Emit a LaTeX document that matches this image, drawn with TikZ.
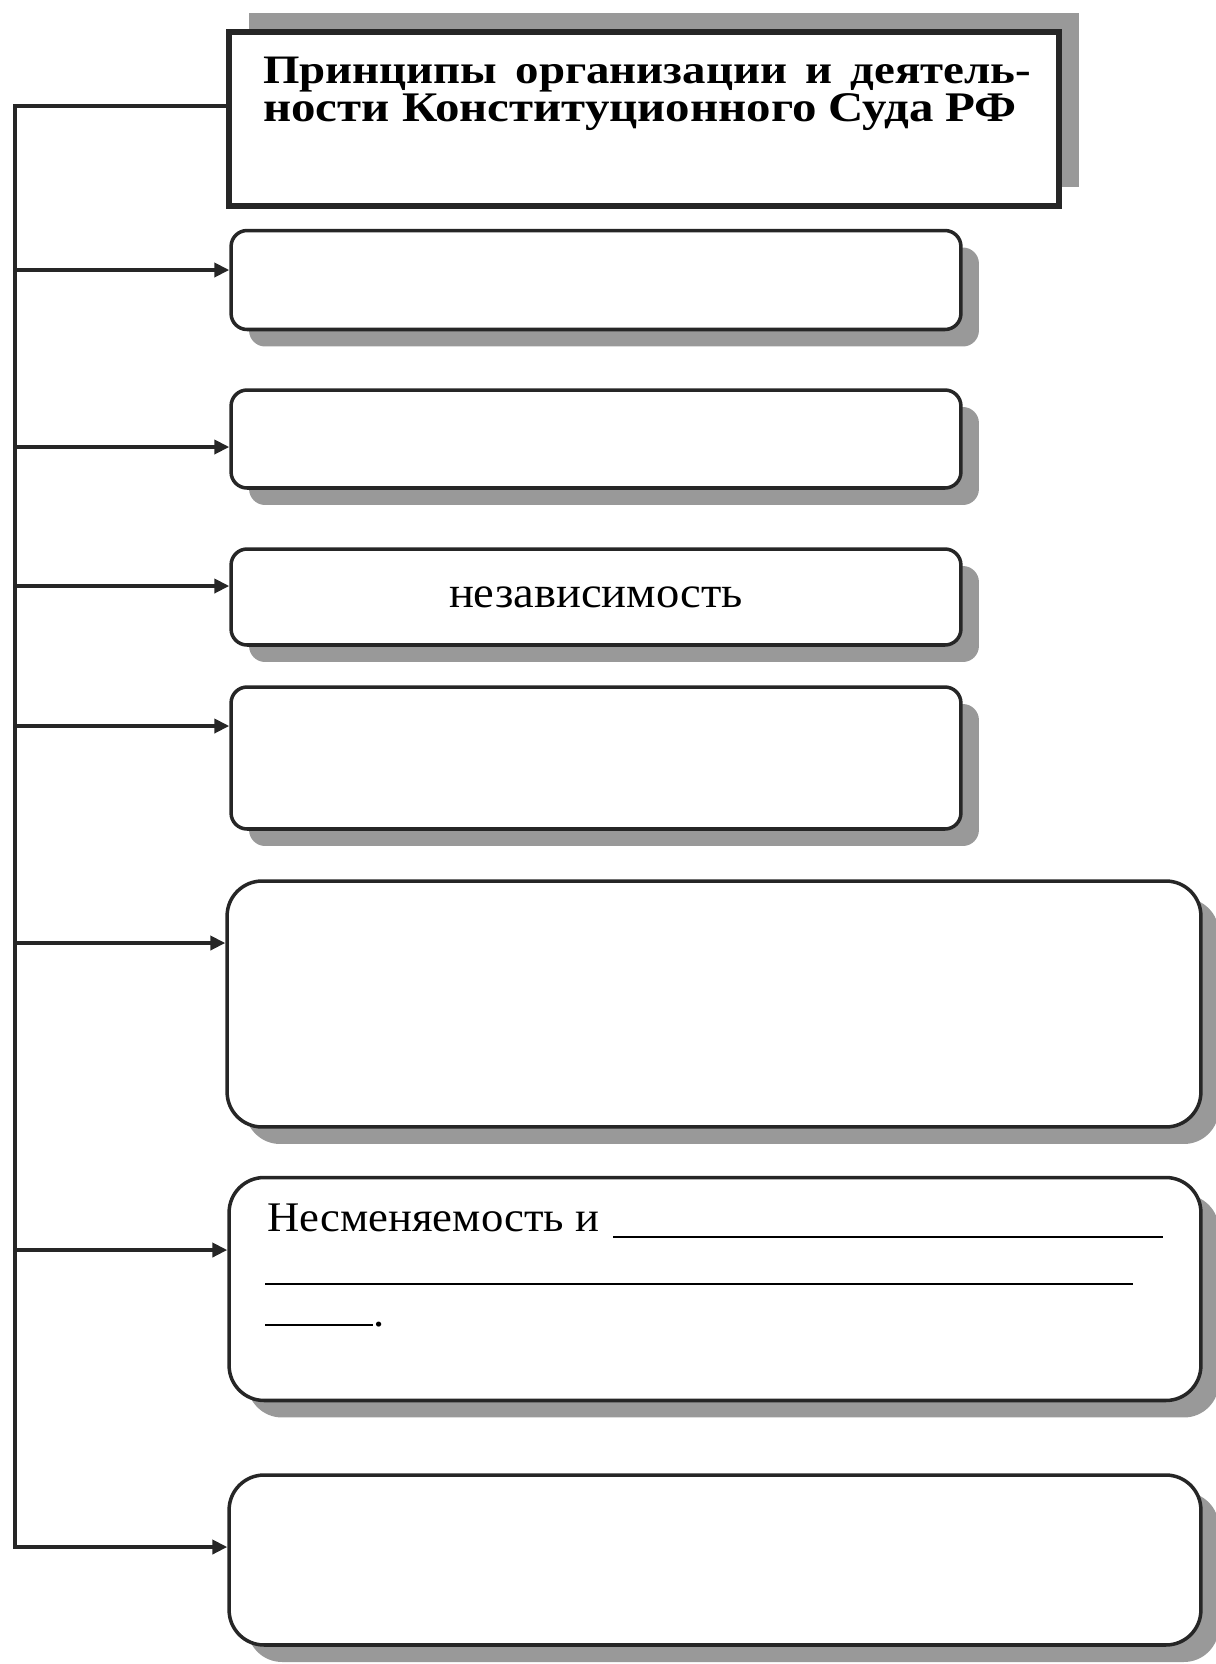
\documentclass[tikz,border=0pt]{standalone}
\usepackage{fontspec}
\setmainfont{Liberation Serif}[FakeStretch=1.06]
\newfontfamily\headfont{Liberation Serif}[FakeStretch=1.16]
\usepackage{tikz}
\usetikzlibrary{positioning,arrows.meta,shadows}
\tikzset{
  arr/.style={-{Triangle[length=3mm, width=2.8mm]}, line width=2.2pt, color=black!85},
  trunk/.style={line width=2.2pt, color=black!85, line cap=rect},
  card/.style={rectangle, draw=black!85, line width=2pt, fill=white, rounded corners=3.2mm, minimum width=14.6cm,
    drop shadow={shadow xshift=3.6mm, shadow yshift=-3.4mm, fill=gray!80, opacity=1}, font=\fontsize{25}{30}\selectfont},
  bigcard/.style={card, rounded corners=7mm, minimum width=19.44cm},
  head/.style={rectangle, draw=black!85, line width=3.5pt, fill=white, minimum width=16.6cm, minimum height=3.48cm,
    drop shadow={shadow xshift=4mm, shadow yshift=3.8mm, fill=gray!80, opacity=1}},
  headtxt/.style={font=\headfont\bfseries\fontsize{24}{28}\selectfont, inner sep=0pt},
  blank/.style={font=\fontsize{24}{30}\selectfont, inner sep=0pt}
}
\begin{document}
\begin{tikzpicture}[x=0.02cm, y=-0.02cm]
\useasboundingbox (0,0) rectangle (1216,1664);
% title box
\node[head] (hd) at (644,119) {};
\node[headtxt, font=\headfont\bfseries\fontsize{23}{28}\selectfont, anchor=base west] (hd1) at (263,83) {\makebox[15.36cm][s]{Принципы организации и деятель-}};
\node[headtxt, anchor=base west] (hd2) at (263,121) {ности Конституционного Суда РФ};
% principle boxes
\node[card, minimum height=1.98cm] (b1) at (596,280) {};
\node[card, minimum height=1.96cm] (b2) at (596,439) {};
\node[card, minimum height=1.92cm] (b3) at (596,597) {независимость};
\node[card, minimum height=2.84cm] (b4) at (596,758) {};
\node[bigcard, minimum width=19.48cm, minimum height=4.92cm] (b5) at (714,1004) {};
\node[bigcard, minimum height=4.46cm] (b6) at (715,1289) {};
\node[bigcard, minimum height=3.4cm] (b7) at (715,1560) {};
% blanks in b6
\node[blank, anchor=base west] (l1) at (267,1231) {\makebox[6.92cm][l]{Несменяемость и}\rule[-0.14cm]{11cm}{1pt}};
\node[blank, anchor=base west] (l2) at (265,1285) {\rule{17.36cm}{1pt}};
\node[blank, anchor=base west] (l3) at (265,1326) {\rule{2.16cm}{1pt}.};
% connectors
\coordinate (top) at (15,106);
\foreach \n/\y in {b1/270, b2/447, b3/586, b4/726, b5/943, b6/1250, b7/1547} {
  \coordinate (j\n) at (15,\y);
  \draw[arr] (j\n) -- (j\n -| \n.west);
}
\draw[trunk] (hd.west |- top) -- (top) -- (jb7);
\end{tikzpicture}
\end{document}
